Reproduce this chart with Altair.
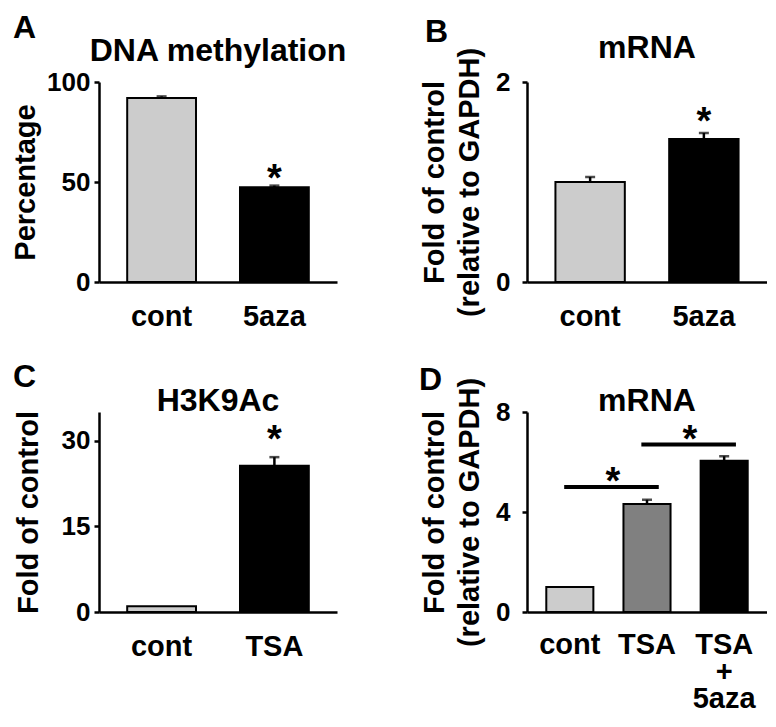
import altair as alt
import pandas as pd

FONT = "Liberation Sans, Arial, sans-serif"

# ---------------- data ----------------
# Panel A: DNA methylation
a_cats = ["cont", "5aza"]
a_vals = [92.0, 47.4]
a_errs = [0.8, 0.8]
a_fill = ["#cccccc", "#000000"]
a_sig = ["", "*"]
a_ticks = [0, 50, 100]

# Panel B: mRNA
b_cats = ["cont", "5aza"]
b_vals = [1.0, 1.43]
b_errs = [0.05, 0.06]
b_fill = ["#cccccc", "#000000"]
b_sig = ["", "*"]
b_ticks = [0, 1, 2]

# Panel C: H3K9Ac
c_cats = ["cont", "TSA"]
c_vals = [1.0, 25.6]
c_errs = [0.0, 1.5]
c_fill = ["#cccccc", "#000000"]
c_sig = ["", "*"]
c_ticks = [0, 15, 30]

# Panel D: mRNA
d_cats = ["cont", "TSA", "TSA + 5aza"]
d_vals = [1.0, 4.32, 6.05]
d_errs = [0.0, 0.17, 0.18]
d_fill = ["#cccccc", "#808080", "#000000"]
d_sig = ["", "", ""]
d_ticks = [0, 4, 8]
d_pair_from = ["cont", "TSA"]
d_pair_to = ["TSA", "TSA + 5aza"]
d_pair_y = [5.0, 6.7]
d_pair_sig = ["*", "*"]


def panel(letter, title, cats, vals, errs, fills, sig, ymax, yticks, ytitle,
          w, h, ylab_pad, ytitle_pad, letter_xy, title_y, star_dy,
          xlab_pad, multiline=False, extra=None):
    df = pd.DataFrame({"cat": cats, "val": vals, "err": errs,
                       "fill": fills, "sig": sig})
    xs = alt.Scale(domain=cats, paddingInner=0.39, paddingOuter=0.25)
    ys = alt.Scale(domain=[0, ymax], nice=False, zero=True)
    xaxis_kw = dict(title=None, ticks=False, labelAngle=0, labelFont=FONT,
                    labelFontSize=29, labelFontWeight="bold",
                    labelColor="black", labelPadding=xlab_pad,
                    domainColor="black", domainWidth=2.5,
                    labelLineHeight=27)
    if multiline:
        xaxis_kw["labelExpr"] = "split(datum.label, ' ')"
    xaxis = alt.Axis(**xaxis_kw)
    yaxis = alt.Axis(values=yticks, format="d", grid=False,
                     domainColor="black", domainWidth=2.5, tickColor="black",
                     tickWidth=2.5, tickSize=5, labelFont=FONT,
                     labelFontSize=26, labelFontWeight="bold",
                     labelColor="black", labelPadding=ylab_pad, title=ytitle,
                     titleFont=FONT, titleFontSize=29, titleFontWeight="bold",
                     titleColor="black", titlePadding=ytitle_pad,
                     titleLineHeight=35)
    base = alt.Chart(df)
    bars = base.mark_bar(stroke="black", strokeWidth=2).encode(
        x=alt.X("cat:N", scale=xs, axis=xaxis, sort=cats),
        y=alt.Y("val:Q", scale=ys, axis=yaxis),
        color=alt.Color("fill:N", scale=None),
    )
    eb = base.transform_filter("datum.err > 0").transform_calculate(
        hi="datum.val + datum.err")
    rule = eb.mark_rule(color="black", strokeWidth=2.5).encode(
        x=alt.X("cat:N", scale=xs, sort=cats),
        y=alt.Y("val:Q", scale=ys),
        y2="hi:Q",
    )
    cap = eb.mark_tick(color="black", size=10, thickness=2.5).encode(
        x=alt.X("cat:N", scale=xs, sort=cats),
        y=alt.Y("hi:Q", scale=ys),
    )
    stars = base.transform_calculate(hi="datum.val + datum.err").mark_text(
        font=FONT, fontSize=38, fontWeight="bold", baseline="alphabetic",
        color="black", dy=star_dy).encode(
        x=alt.X("cat:N", scale=xs, sort=cats),
        y=alt.Y("hi:Q", scale=ys),
        text="sig:N",
    )
    lab = alt.Chart(alt.Data(values=[{"t": letter}])).mark_text(
        font=FONT, fontSize=32, fontWeight="bold", align="left",
        baseline="top", color="black").encode(
        x=alt.value(letter_xy[0]), y=alt.value(letter_xy[1]), text="t:N")
    ttl = alt.Chart(alt.Data(values=[{"t": title}])).mark_text(
        font=FONT, fontSize=32, fontWeight="bold", align="center",
        baseline="alphabetic", color="black").encode(
        x=alt.value(w / 2), y=alt.value(title_y), text="t:N")
    layers = [bars, rule, cap, stars]
    if extra is not None:
        layers += extra(xs, ys)
    layers += [lab, ttl]
    return alt.layer(*layers).properties(width=w, height=h)


def d_extra(xs, ys):
    pdf = pd.DataFrame({"x1": d_pair_from, "x2": d_pair_to, "y": d_pair_y,
                        "s": d_pair_sig})
    lines = alt.Chart(pdf).mark_rule(color="black", strokeWidth=4).encode(
        x=alt.X("x1:N", scale=xs, bandPosition=0.38),
        x2=alt.X2(field="x2", bandPosition=0.75),
        y=alt.Y("y:Q", scale=ys),
    )
    st = alt.Chart(pdf).mark_text(font=FONT, fontSize=38, fontWeight="bold",
                                  baseline="alphabetic", color="black",
                                  dx=43, dy=7).encode(
        x=alt.X("x1:N", scale=xs),
        y=alt.Y("y:Q", scale=ys),
        text="s:N",
    )
    return [lines, st]


W1, W2, H = 238, 240, 200
pA = panel("A", "DNA methylation", a_cats, a_vals, a_errs, a_fill, a_sig,
           100, a_ticks, "Percentage", W1, H, 4, 6, (-86, -69), -21, 5, 20)
pB = panel("B", "mRNA", b_cats, b_vals, b_errs, b_fill, b_sig, 2, b_ticks,
           ["Fold of control", "(relative to GAPDH)"], W2, H, 12, 11,
           (-102, -65), -24, 1, 20)
pC = panel("C", "H3K9Ac", c_cats, c_vals, c_errs, c_fill, c_sig, 35, c_ticks,
           "Fold of control", W1, H, 4, 18, (-86, -50), -1, -5, 20)
pD = panel("D", "mRNA", d_cats, d_vals, d_errs, d_fill, d_sig, 8, d_ticks,
           ["Fold of control", "(relative to GAPDH)"], W2, H, 12, 11,
           (-108, -47), -1, 0, 18, multiline=True, extra=d_extra)

chart = alt.concat(pA, pB, pC, pD, columns=2,
                   spacing={"row": 130, "column": 190},
                   bounds="flush").configure_view(stroke=None).properties(
    padding={"left": 3, "top": 4, "right": 0, "bottom": 0},
    background="white")

chart.save("out.html", embed_options={"renderer": "svg", "actions": False})
